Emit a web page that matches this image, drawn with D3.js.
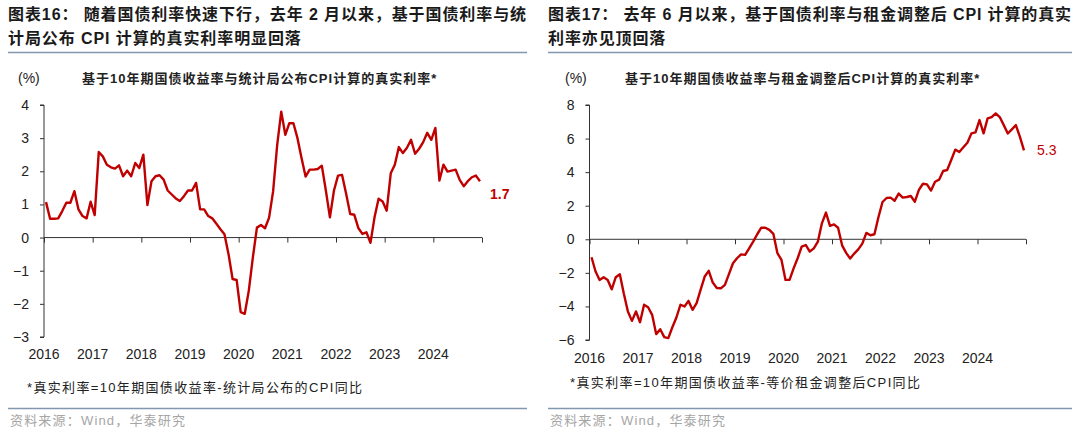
<!DOCTYPE html>
<html>
<head>
<meta charset="utf-8">
<script src="https://cdn.jsdelivr.net/npm/d3@7"></script>
<style>
  html, body { margin: 0; padding: 0; background: #ffffff; }
  svg { display: block; }
  text { font-family: "Liberation Sans", Arial, "Noto Sans CJK SC", sans-serif; }
</style>
</head>
<body>
<svg id="chart" width="1080" height="440"></svg>
<script>
// ---------- data ----------
const yearLabels = ["2016","2017","2018","2019","2020","2021","2022","2023","2024"];

// Monthly real rate (10y CGB yield minus NBS CPI y/y), Jan 2016 - Dec 2024
const realRateNBS = [
  1.07, 0.57, 0.57, 0.58, 0.80, 1.05, 1.05, 1.40, 0.85, 0.65, 0.58, 1.08,
  0.68, 2.58, 2.45, 2.20, 2.12, 2.08, 2.18, 1.85, 2.02, 1.85, 2.25, 2.10,
  2.50, 0.98, 1.70, 1.85, 1.88, 1.75, 1.42, 1.30, 1.18, 1.10, 1.25, 1.42,
  1.42, 1.65, 0.85, 0.85, 0.65, 0.58, 0.42, 0.25, 0.10, -0.50, -1.25, -1.28,
  -2.25, -2.30, -1.60, -0.60, 0.30, 0.38, 0.28, 0.60, 1.40, 2.80, 3.80, 3.10,
  3.45, 3.45, 3.00, 2.40, 1.84, 2.05, 2.05, 2.07, 2.17, 1.42, 0.61, 1.42,
  1.87, 1.89, 1.32, 0.71, 0.69, 0.29, 0.11, 0.16, -0.16, 0.61, 1.17, 1.09,
  0.81, 1.94, 2.20, 2.73, 2.55, 2.71, 2.95, 2.53, 2.68, 2.88, 3.16, 2.95,
  3.31, 1.72, 2.20, 1.99, 2.02, 2.05, 1.74, 1.55, 1.70, 1.82, 1.87, 1.70
];

// Monthly real rate (10y CGB yield minus rent-adjusted CPI y/y), Jan 2016 - Dec 2024
const realRateRentAdj = [
  -1.07, -1.92, -2.42, -2.26, -2.42, -2.98, -2.26, -2.08, -3.25, -4.30, -4.86, -4.30,
  -4.94, -3.90, -4.05, -4.50, -5.65, -5.36, -5.83, -5.89, -5.24, -4.66, -3.90, -4.00,
  -3.67, -4.20, -3.80, -3.00, -2.22, -1.88, -2.58, -2.90, -2.92, -2.72, -2.08, -1.43,
  -1.13, -0.90, -0.93, -0.54, -0.14, 0.30, 0.69, 0.69, 0.56, 0.32, -0.83, -1.23,
  -2.42, -2.42, -1.73, -1.13, -0.44, -0.34, -0.73, -0.54, -0.14, 0.95, 1.59, 0.80,
  0.89, 0.69, -0.36, -0.81, -1.15, -0.85, -0.60, -0.26, 0.38, 0.24, 0.30, 1.33,
  2.22, 2.46, 2.48, 2.30, 2.72, 2.48, 2.52, 2.58, 2.24, 2.94, 3.31, 3.27,
  2.90, 3.43, 3.55, 4.07, 4.13, 4.72, 5.34, 5.20, 5.48, 5.75, 6.31, 6.37,
  7.10, 6.31, 7.20, 7.28, 7.50, 7.28, 6.80, 6.30, 6.55, 6.80, 6.10, 5.30
];

const yTicksLeft = [-3, -2, -1, 0, 1, 2, 3, 4];
const yTicksRight = [-6, -4, -2, 0, 2, 4, 6, 8];

const titlesLeft = ["图表16： 随着国债利率快速下行，去年 2 月以来，基于国债利率与统", "计局公布 CPI 计算的真实利率明显回落"];
const titlesRight = ["图表17： 去年 6 月以来，基于国债利率与租金调整后 CPI 计算的真实", "利率亦见顶回落"];
const subtitleLeft = "基于10年期国债收益率与统计局公布CPI计算的真实利率*";
const subtitleRight = "基于10年期国债收益率与租金调整后CPI计算的真实利率*";
const noteLeft = "*真实利率=10年期国债收益率-统计局公布的CPI同比";
const noteRight = "*真实利率=10年期国债收益率-等价租金调整后CPI同比";
const sourceText = "资料来源：Wind，华泰研究";
const unitText = "(%)";

// ---------- drawing ----------
const svg = d3.select("#chart");
svg.append("rect").attr("width", 1080).attr("height", 440).attr("fill", "#fff");

const RED = "#c00000";
const RULE = "#8196b1";

function drawPanel(cfg) {
  const g = svg.append("g");

  // title
  const t1 = g.append("text").attr("x", cfg.left).attr("y", 20)
    .attr("font-size", 16).attr("font-weight", "bold").attr("fill", "#1a1a1a")
    .text(cfg.titles[0]);
  const L = t1.node().getComputedTextLength();
  const n = cfg.titles[0].length;
  const ls = (cfg.right - cfg.left - L) / n;
  t1.attr("letter-spacing", ls);
  g.append("text").attr("x", cfg.left).attr("y", 44)
    .attr("font-size", 16).attr("font-weight", "bold").attr("fill", "#1a1a1a")
    .attr("letter-spacing", ls)
    .text(cfg.titles[1]);

  g.append("line").attr("x1", cfg.left).attr("x2", cfg.right)
    .attr("y1", 52.5).attr("y2", 52.5).attr("stroke", RULE).attr("stroke-width", 1.5);

  // unit + subtitle
  g.append("text").attr("x", cfg.unitX).attr("y", 83)
    .attr("font-size", 14).attr("fill", "#222").text(unitText);
  g.append("text").attr("x", cfg.subX).attr("y", 83)
    .attr("font-size", 13).attr("font-weight", "bold").attr("fill", "#222")
    .attr("letter-spacing", 1)
    .text(cfg.subtitle);

  // scales
  const x = d3.scaleLinear().domain([0, cfg.values.length]).range([cfg.x0, cfg.x1]);
  const y = d3.scaleLinear().domain(cfg.yDomain).range([cfg.yBottom, cfg.yTop]);

  // y axis
  const yAxis = d3.axisLeft(y).tickValues(cfg.yTicks).tickSize(4).tickPadding(11)
    .tickFormat(d3.format("d"));
  const ya = g.append("g").attr("transform", `translate(${cfg.x0},0)`).call(yAxis);
  ya.select(".domain").attr("stroke", "#333").attr("d", `M-4,${y(cfg.yDomain[1])}H0V${y(cfg.yDomain[0])}H-4`);
  ya.selectAll(".tick line").attr("stroke", "#333");
  ya.selectAll(".tick text").attr("font-size", 14).attr("fill", "#222")
    .style("font-family", '"Liberation Sans", Arial, sans-serif');

  // x axis at zero
  const xTickVals = d3.range(0, cfg.values.length + 1, 12);
  const xAxis = d3.axisBottom(x).tickValues(xTickVals).tickSize(5).tickFormat("");
  const xa = g.append("g").attr("transform", `translate(0,${y(0)})`).call(xAxis);
  xa.select(".domain").attr("stroke", "#333").attr("d", `M${cfg.x0},0H${cfg.x1}`);
  xa.selectAll(".tick line").attr("stroke", "#333");

  // year labels at bottom
  g.append("g").selectAll("text").data(yearLabels).join("text")
    .attr("x", (d, i) => x(i * 12))
    .attr("y", cfg.yearY)
    .attr("text-anchor", "middle")
    .attr("font-size", 14).attr("fill", "#222")
    .text(d => d);

  // line
  const line = d3.line().x((d, i) => x(i + 0.5)).y(d => y(d));
  g.append("path").datum(cfg.values)
    .attr("d", line).attr("fill", "none").attr("stroke", RED)
    .attr("stroke-width", 2.4).attr("stroke-linejoin", "round");

  // end label
  const last = cfg.values[cfg.values.length - 1];
  g.append("text")
    .attr("x", x(cfg.values.length) + cfg.labelDx)
    .attr("y", y(last) + cfg.labelDy)
    .attr("font-size", 14).attr("fill", RED)
    .attr("font-weight", cfg.labelBold ? "bold" : "normal")
    .text(d3.format(".1f")(last));

  // note
  g.append("text").attr("x", cfg.noteX).attr("y", cfg.noteY)
    .attr("font-size", 13).attr("fill", "#222")
    .attr("textLength", cfg.noteW).attr("lengthAdjust", "spacing")
    .text(cfg.note);

  // bottom rule + source
  g.append("line").attr("x1", cfg.left).attr("x2", cfg.right)
    .attr("y1", 408.5).attr("y2", 408.5).attr("stroke", RULE).attr("stroke-width", 1.5);
  g.append("text").attr("x", cfg.left + 2).attr("y", 425)
    .attr("font-size", 13).attr("fill", "#a6a6a6")
    .attr("textLength", 175).attr("lengthAdjust", "spacing")
    .text(sourceText);
}

drawPanel({
  left: 8, right: 527,
  titles: titlesLeft, subtitle: subtitleLeft, note: noteLeft,
  unitX: 18, subX: 82,
  values: realRateNBS,
  x0: 44, x1: 482, yTop: 105, yBottom: 337, yDomain: [-3, 4], yTicks: yTicksLeft,
  yearY: 359, labelDx: 8, labelDy: 18, labelBold: true,
  noteX: 27, noteY: 392, noteW: 335
});

drawPanel({
  left: 548, right: 1072,
  titles: titlesRight, subtitle: subtitleRight, note: noteRight,
  unitX: 565, subX: 625,
  values: realRateRentAdj,
  x0: 589.5, x1: 1026, yTop: 105, yBottom: 340, yDomain: [-6, 8], yTicks: yTicksRight,
  yearY: 363, labelDx: 11, labelDy: 5, labelBold: false,
  noteX: 570, noteY: 387, noteW: 350
});
</script>
</body>
</html>
